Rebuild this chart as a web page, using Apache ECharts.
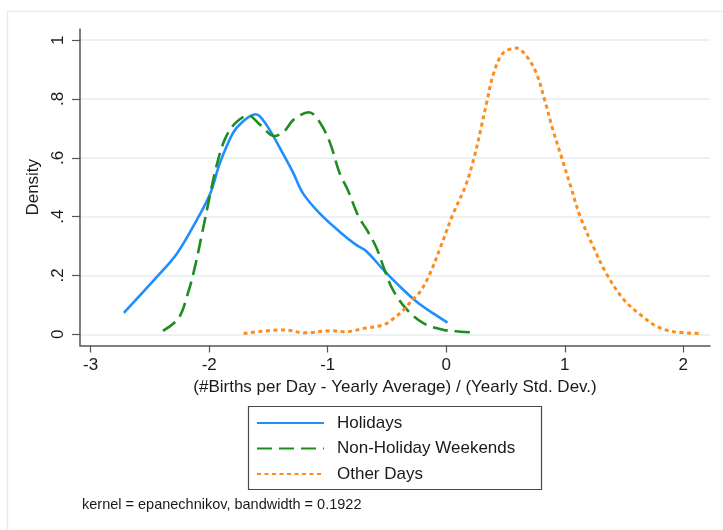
<!DOCTYPE html>
<html>
<head>
<meta charset="utf-8">
<script src="https://cdn.jsdelivr.net/npm/echarts@6/dist/echarts.min.js"></script>
<style>
  html, body { margin: 0; padding: 0; background: #ffffff; }
  #chart { width: 723px; height: 530px; }
</style>
</head>
<body>
<div id="chart"></div>
<script>
// Kernel density estimates of standardized daily births, by day type
const seriesNames = ['Holidays', 'Non-Holiday Weekends', 'Other Days'];

const holidaysX = [-2.72, -2.44, -2.27, -2.11, -1.99, -1.91, -1.80, -1.72, -1.61, -1.57, -1.49, -1.38, -1.29, -1.21, -1.07, -0.90, -0.76, -0.67, -0.53, -0.39, -0.25, -0.11, 0.01];
const holidaysY = [0.073, 0.196, 0.276, 0.385, 0.480, 0.582, 0.684, 0.722, 0.748, 0.740, 0.695, 0.616, 0.548, 0.480, 0.412, 0.349, 0.304, 0.281, 0.219, 0.162, 0.111, 0.071, 0.040];

const weekendsX = [-2.39, -2.26, -2.18, -2.12, -2.06, -1.99, -1.94, -1.87, -1.78, -1.67, -1.57, -1.45, -1.37, -1.29, -1.16, -1.07, -0.98, -0.90, -0.83, -0.74, -0.67, -0.59, -0.52, -0.45, -0.33, -0.19, -0.02, 0.12, 0.20];
const weekendsY = [0.012, 0.054, 0.139, 0.230, 0.343, 0.480, 0.570, 0.661, 0.718, 0.744, 0.712, 0.674, 0.689, 0.729, 0.755, 0.723, 0.650, 0.548, 0.490, 0.400, 0.355, 0.295, 0.219, 0.151, 0.083, 0.037, 0.015, 0.009, 0.007];

const otherX = [-1.71, -1.38, -1.18, -0.98, -0.84, -0.70, -0.53, -0.45, -0.36, -0.29, -0.22, -0.14, -0.05, 0.06, 0.16, 0.23, 0.29, 0.34, 0.40, 0.48, 0.59, 0.68, 0.76, 0.83, 0.90, 0.98, 1.05, 1.13, 1.24, 1.35, 1.50, 1.64, 1.78, 1.92, 2.13];
const otherY = [0.003, 0.015, 0.005, 0.012, 0.009, 0.020, 0.032, 0.052, 0.083, 0.115, 0.145, 0.204, 0.295, 0.412, 0.502, 0.593, 0.695, 0.786, 0.888, 0.956, 0.973, 0.944, 0.888, 0.797, 0.695, 0.593, 0.502, 0.400, 0.298, 0.207, 0.117, 0.066, 0.026, 0.009, 0.003];

const xTicks = [-3, -2, -1, 0, 1, 2];
const yTicks = [0, 0.2, 0.4, 0.6, 0.8, 1];

const xTitle = '(#Births per Day - Yearly Average) / (Yearly Std. Dev.)';
const yTitle = 'Density';
const note = 'kernel = epanechnikov, bandwidth = 0.1922';

const zip = (xs, ys) => xs.map((x, i) => [x, ys[i]]);
const FONT = '"Liberation Sans", Arial, Helvetica, sans-serif';
const INK = '#1a1a1a';
const AXIS = '#555555';

const chart = echarts.init(document.getElementById('chart'), null, { renderer: 'canvas' });

chart.setOption({
  animation: false,
  backgroundColor: '#ffffff',
  textStyle: { fontFamily: FONT },
  grid: { left: 80, right: 13, top: 29, bottom: 184.5, containLabel: false, outerBoundsMode: 'none' },
  xAxis: {
    type: 'value',
    min: -3.09, max: 2.225,
    name: xTitle,
    nameLocation: 'middle',
    nameGap: 30,
    nameTextStyle: { fontSize: 17, color: INK, fontFamily: FONT },
    axisLine: { show: true, onZero: false, lineStyle: { color: AXIS, width: 1.5 } },
    axisTick: { show: true, length: 7, lineStyle: { color: AXIS, width: 1.2 }, customValues: xTicks },
    axisLabel: { fontSize: 17, color: INK, margin: 11, fontFamily: FONT, customValues: xTicks,
      formatter: v => String(v) },
    splitLine: { show: false }
  },
  yAxis: {
    type: 'value',
    min: -0.038, max: 1.038,
    name: yTitle,
    nameLocation: 'middle',
    nameGap: 31,
    nameRotate: 90,
    nameTextStyle: { fontSize: 17, color: INK, fontFamily: FONT },
    axisLine: { show: true, onZero: false, lineStyle: { color: AXIS, width: 1.5 } },
    axisTick: { show: true, length: 8, lineStyle: { color: AXIS, width: 1.2 }, customValues: yTicks },
    axisLabel: { fontSize: 17, color: INK, margin: 13, rotate: 90, fontFamily: FONT, customValues: yTicks,
      formatter: v => {
        const r = Math.round(v * 10) / 10;
        if (r === 0) return '0';
        if (r === 1) return '1';
        return String(r).replace(/^0/, '');
      } },
    splitLine: { show: true, lineStyle: { color: '#e6eef0', width: 1.5 } }
  },
  legend: {
    orient: 'vertical',
    left: 256, top: 413,
    padding: 0,
    itemWidth: 67, itemHeight: 14,
    itemGap: 5.5,
    itemStyle: { opacity: 0 },
    textStyle: { fontSize: 17, color: INK, fontFamily: FONT, lineHeight: 20, padding: [0, 0, 0, 8] },
    data: seriesNames
  },
  graphic: [
    { type: 'rect', silent: true, z: -10,
      shape: { x: 7.5, y: 11.5, width: 900, height: 700 },
      style: { fill: 'none', stroke: '#e4eced', lineWidth: 1.5 } },
    { type: 'rect', silent: true,
      shape: { x: 248.5, y: 406.5, width: 293, height: 83 },
      style: { fill: 'none', stroke: '#4a4a4a', lineWidth: 1.2 } },
    { type: 'text', silent: true, left: 82, top: 497,
      style: { text: note, fontSize: 14.5, fill: INK, fontFamily: FONT } }
  ],
  series: [
    { name: seriesNames[0], type: 'line', data: zip(holidaysX, holidaysY), smooth: 0.35,
      symbol: 'none', lineStyle: { color: '#1f8fff', width: 2.6 }, itemStyle: { color: '#1f8fff' } },
    { name: seriesNames[1], type: 'line', data: zip(weekendsX, weekendsY), smooth: 0.35,
      symbol: 'none', lineStyle: { color: '#1e8c1e', width: 2.6, type: [15, 7] }, itemStyle: { color: '#1e8c1e' } },
    { name: seriesNames[2], type: 'line', data: zip(otherX, otherY), smooth: 0.35,
      symbol: 'none', lineStyle: { color: '#ff8c1a', width: 3, type: [4, 3.5] }, itemStyle: { color: '#ff8c1a' } }
  ]
});
</script>
</body>
</html>
